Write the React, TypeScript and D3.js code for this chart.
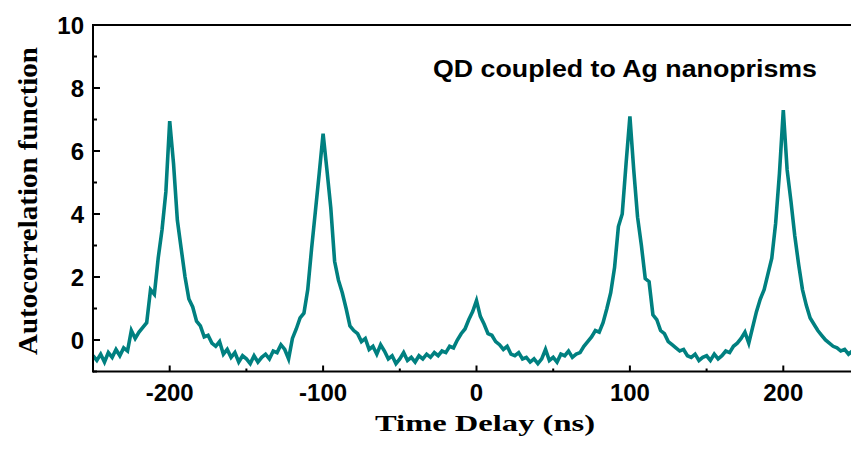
import React, { useRef, useEffect } from "react";
import * as d3 from "d3";

const W = 851;
const H = 449;

// time-delay sampling grid (ns)
const delayStart = -250;
const delayStep = 2.5;

// autocorrelation values, one per 2.5 ns from -250 ns
const g2Values = [
  -0.5, -0.65, -0.45, -0.7, -0.4, -0.55, -0.3, -0.5, -0.25, -0.35,
  0.3, 0.05, 0.25, 0.4, 0.55, 1.6, 1.45, 2.6, 3.5, 4.7,
  6.95, 5.6, 3.8, 2.9, 2.0, 1.3, 1.05, 0.6, 0.45, 0.1,
  0.15, -0.1, -0.2, -0.05, -0.45, -0.3, -0.55, -0.4, -0.7, -0.5,
  -0.6, -0.75, -0.5, -0.7, -0.55, -0.45, -0.6, -0.35, -0.4, -0.15,
  -0.3, -0.6, 0.05, 0.35, 0.7, 0.85, 1.6, 2.9, 4.1, 5.3,
  6.55, 5.4, 4.2, 2.5, 1.9, 1.5, 1.0, 0.45, 0.3, 0.2,
  -0.05, 0.05, -0.3, -0.2, -0.45, -0.15, -0.35, -0.6, -0.5, -0.75,
  -0.6, -0.4, -0.65, -0.55, -0.7, -0.5, -0.6, -0.45, -0.55, -0.4,
  -0.5, -0.35, -0.4, -0.2, -0.25, 0.0, 0.2, 0.35, 0.65, 0.9,
  1.25, 0.75, 0.5, 0.2, 0.15, -0.05, -0.15, -0.3, -0.2, -0.45,
  -0.5, -0.4, -0.6, -0.55, -0.7, -0.6, -0.75, -0.6, -0.3, -0.65,
  -0.55, -0.7, -0.45, -0.5, -0.35, -0.55, -0.45, -0.4, -0.2, -0.05,
  0.1, 0.3, 0.25, 0.55, 1.0, 1.5, 2.3, 3.6, 4.0, 5.6,
  7.1, 5.4, 3.9, 3.0, 1.95, 1.85, 0.8, 0.65, 0.3, 0.2,
  -0.05, -0.15, -0.25, -0.35, -0.3, -0.5, -0.55, -0.45, -0.65, -0.55,
  -0.5, -0.65, -0.45, -0.6, -0.5, -0.35, -0.4, -0.2, -0.1, 0.05,
  0.25, -0.1, 0.4, 0.9, 1.3, 1.6, 2.1, 2.6, 3.7, 5.3,
  7.3, 5.4, 4.4, 3.3, 2.4, 1.6, 1.1, 0.7, 0.5, 0.3,
  0.15, 0.0, -0.1, -0.2, -0.25, -0.35, -0.3, -0.45, -0.35, -0.5,
  -0.4,
];

const xMajorTicks = [-200, -100, 0, 100, 200];
const xMinorTicks = [-250, -150, -50, 50, 150, 250];
const yMajorTicks = [0, 2, 4, 6, 8, 10];
const yMinorTicks = [-1, 1, 3, 5, 7, 9];

const xLabel = "Time Delay (ns)";
const yLabel = "Autocorrelation function";
const titleText = "QD coupled to Ag nanoprisms";

export default function App() {
  const ref = useRef<SVGSVGElement>(null);

  useEffect(() => {
    const svg = d3.select(ref.current);
    svg.selectAll("*").remove();

    const left = 93;
    const right = 860;
    const top = 25;
    const bottom = 371.5;

    const x = d3.scaleLinear().domain([-250, 250]).range([left, right]);
    const y = d3.scaleLinear().domain([-1, 10]).range([bottom, top]);

    const data = g2Values.map((v, i) => ({ t: delayStart + i * delayStep, v }));

    svg
      .append("defs")
      .append("clipPath")
      .attr("id", "plotclip")
      .append("rect")
      .attr("x", left)
      .attr("y", top)
      .attr("width", right - left)
      .attr("height", bottom - top);

    const line = d3
      .line<{ t: number; v: number }>()
      .x((d) => x(d.t))
      .y((d) => y(d.v));

    svg
      .append("path")
      .datum(data)
      .attr("clip-path", "url(#plotclip)")
      .attr("d", line)
      .attr("fill", "none")
      .attr("stroke", "#008080")
      .attr("stroke-width", 3.6)
      .attr("stroke-linejoin", "miter");

    const axisColor = "#000";
    // frame lines
    svg.append("line").attr("x1", left).attr("x2", W).attr("y1", top).attr("y2", top)
      .attr("stroke", axisColor).attr("stroke-width", 2);
    svg.append("line").attr("x1", left).attr("x2", W).attr("y1", bottom).attr("y2", bottom)
      .attr("stroke", axisColor).attr("stroke-width", 2);
    svg.append("line").attr("x1", left).attr("x2", left).attr("y1", top - 1).attr("y2", bottom + 1)
      .attr("stroke", axisColor).attr("stroke-width", 2);

    // x ticks (inward)
    svg.selectAll(".xmaj").data(xMajorTicks).enter().append("line")
      .attr("x1", (d) => x(d)).attr("x2", (d) => x(d))
      .attr("y1", bottom).attr("y2", bottom - 6)
      .attr("stroke", axisColor).attr("stroke-width", 2);
    svg.selectAll(".xmin").data(xMinorTicks).enter().append("line")
      .attr("x1", (d) => x(d)).attr("x2", (d) => x(d))
      .attr("y1", bottom).attr("y2", bottom - 3)
      .attr("stroke", axisColor).attr("stroke-width", 2);

    // y ticks (inward)
    svg.selectAll(".ymaj").data(yMajorTicks).enter().append("line")
      .attr("x1", left).attr("x2", left + 7)
      .attr("y1", (d) => y(d)).attr("y2", (d) => y(d))
      .attr("stroke", axisColor).attr("stroke-width", 2);
    svg.selectAll(".ymin").data(yMinorTicks).enter().append("line")
      .attr("x1", left).attr("x2", left + 4)
      .attr("y1", (d) => y(d)).attr("y2", (d) => y(d))
      .attr("stroke", axisColor).attr("stroke-width", 2);

    const tickFont = "'Liberation Sans', Arial, sans-serif";

    svg.selectAll(".xlab").data(xMajorTicks).enter().append("text")
      .attr("x", (d) => x(d))
      .attr("y", 401)
      .attr("text-anchor", "middle")
      .attr("font-family", tickFont)
      .attr("font-weight", "bold")
      .attr("font-size", 24)
      .text((d) => String(d));

    svg.selectAll(".ylab").data(yMajorTicks).enter().append("text")
      .attr("x", 84)
      .attr("y", (d) => y(d) + 9)
      .attr("text-anchor", "end")
      .attr("font-family", tickFont)
      .attr("font-weight", "bold")
      .attr("font-size", 24)
      .text((d) => String(d));

    svg.append("text")
      .attr("x", 433)
      .attr("y", 77)
      .attr("font-family", tickFont)
      .attr("font-weight", "bold")
      .attr("font-size", 23)
      .attr("textLength", 384)
      .attr("lengthAdjust", "spacingAndGlyphs")
      .text(titleText);

    svg.append("text")
      .attr("x", 375)
      .attr("y", 431)
      .attr("font-family", "'Liberation Serif', 'Times New Roman', serif")
      .attr("font-weight", "bold")
      .attr("font-size", 23)
      .attr("textLength", 220)
      .attr("lengthAdjust", "spacingAndGlyphs")
      .text(xLabel);

    svg.append("text")
      .attr("transform", "translate(37,355) rotate(-90)")
      .attr("x", 0)
      .attr("y", 0)
      .attr("font-family", "'Liberation Serif', 'Times New Roman', serif")
      .attr("font-weight", "bold")
      .attr("font-size", 27)
      .attr("textLength", 308)
      .attr("lengthAdjust", "spacingAndGlyphs")
      .text(yLabel);
  }, []);

  return (
    <svg
      ref={ref}
      width={W}
      height={H}
      style={{ position: "absolute", left: 0, top: 0, background: "#fff" }}
    />
  );
}
